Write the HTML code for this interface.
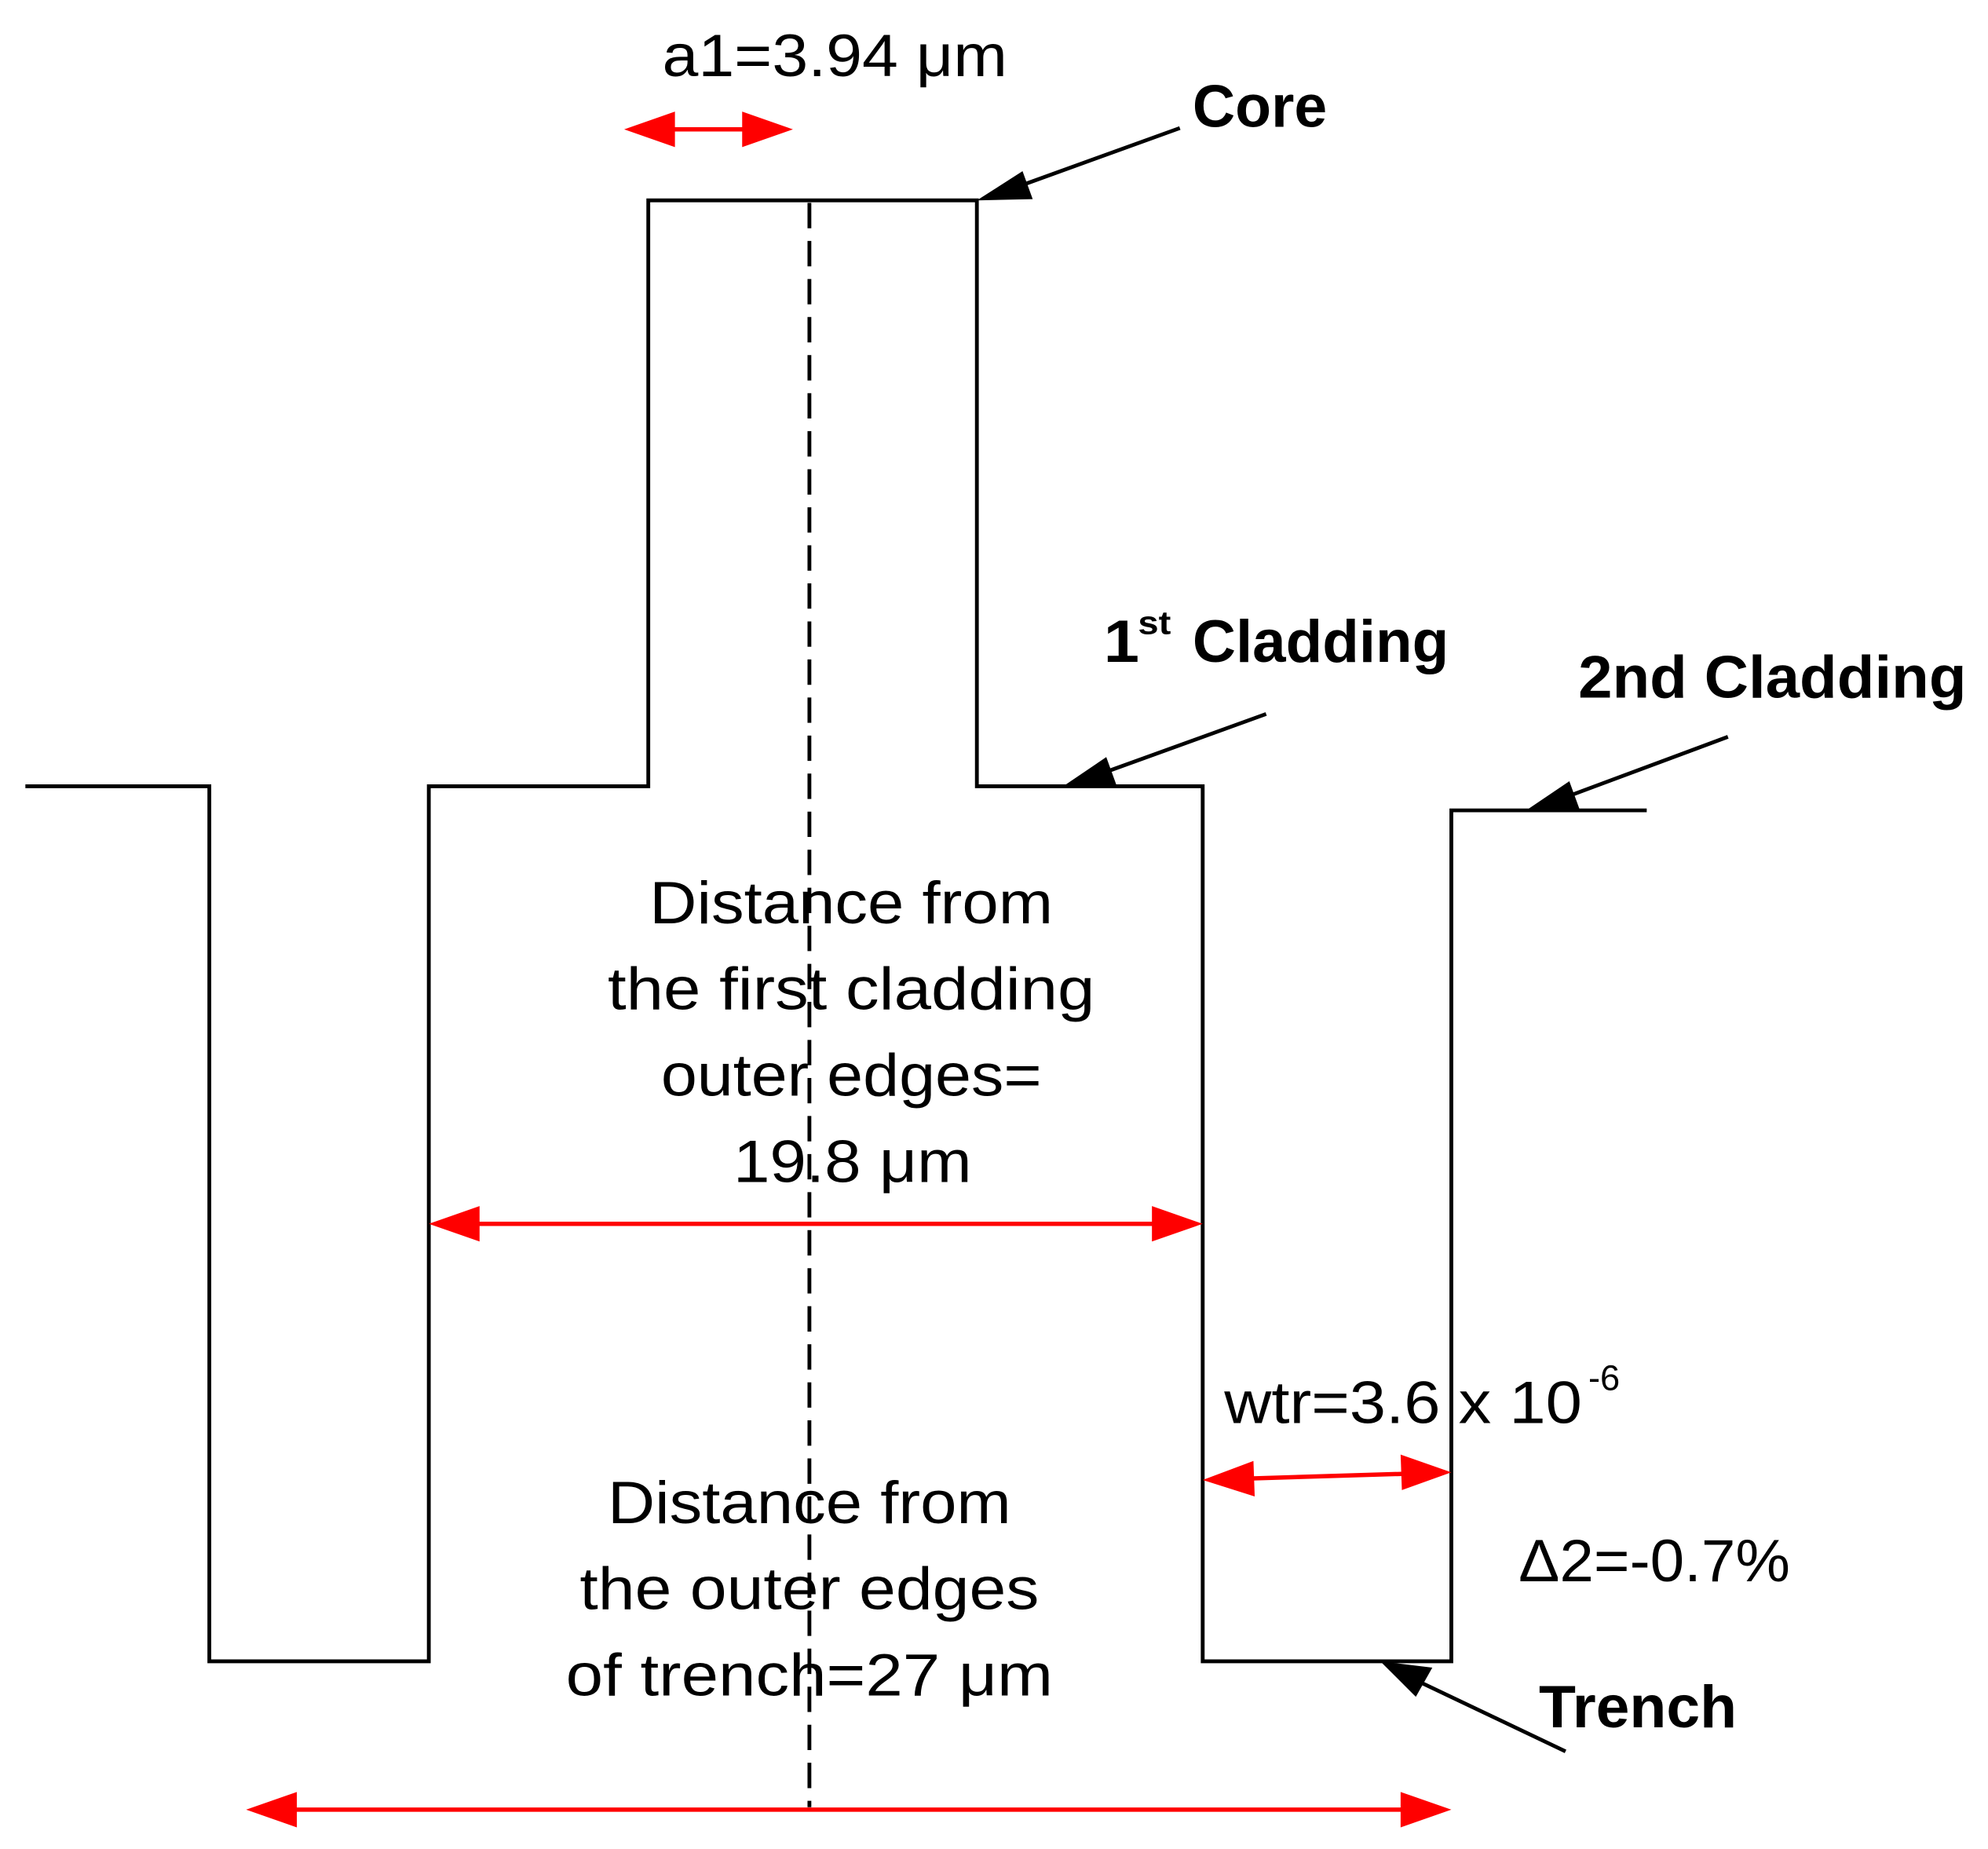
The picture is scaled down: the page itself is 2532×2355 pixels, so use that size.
<!DOCTYPE html>
<html><head><meta charset="utf-8"><style>html,body{margin:0;padding:0;background:#fff}svg{display:block}</style></head>
<body>
<svg width="2532" height="2355" viewBox="0 0 1567 1458" preserveAspectRatio="none" xmlns="http://www.w3.org/2000/svg">
<g fill="none" stroke="#000" stroke-width="3">
<polyline points="20,620 165,620 165,1310 338,1310 338,620 511,620 511,158 770,158 770,620 948,620 948,1310 1144,1310 1144,639 1298,639"/>
<line x1="638" y1="160" x2="638" y2="1425" stroke-dasharray="20,10"/>
<line x1="930" y1="101" x2="800" y2="148"/>
<line x1="998" y1="563" x2="868" y2="610"/>
<line x1="1362" y1="581" x2="1233" y2="629"/>
<line x1="1234" y1="1381" x2="1110" y2="1322"/>
</g>
<g fill="#000">
<polygon points="770,158 806,135 814,157"/>
<polygon points="838,620 872,597 880,619"/>
<polygon points="1203,639 1237,616 1245,638"/>
<polygon points="1088,1310 1129,1315 1116,1338"/>
</g>
<g stroke="#f00" stroke-width="3.4">
<line x1="520" y1="102" x2="598" y2="102"/>
<line x1="370" y1="965" x2="918" y2="965"/>
<line x1="980" y1="1166" x2="1112" y2="1162"/>
<line x1="226" y1="1427" x2="1112" y2="1427"/>
</g>
<g fill="#f00">
<polygon points="492,102 532,88 532,116"/><polygon points="625,102 585,88 585,116"/>
<polygon points="338,965 378,951 378,979"/><polygon points="948,965 908,951 908,979"/>
<polygon points="948,1167 988,1152 989,1180"/><polygon points="1144,1161 1104,1147 1105,1175"/>
<polygon points="194,1427 234,1413 234,1441"/><polygon points="1144,1427 1104,1413 1104,1441"/>
</g>
<g font-family="Liberation Sans, sans-serif" font-size="47" fill="#000">
<text x="522" y="60" textLength="272" lengthAdjust="spacingAndGlyphs">a1=3.94 μm</text>
<text x="512" y="728" textLength="318" lengthAdjust="spacingAndGlyphs">Distance from</text>
<text x="479" y="796" textLength="384" lengthAdjust="spacingAndGlyphs">the first cladding</text>
<text x="521" y="864" textLength="300" lengthAdjust="spacingAndGlyphs">outer edges=</text>
<text x="578" y="932" textLength="188" lengthAdjust="spacingAndGlyphs">19.8 μm</text>
<text x="479" y="1201" textLength="318" lengthAdjust="spacingAndGlyphs">Distance from</text>
<text x="457" y="1269" textLength="362" lengthAdjust="spacingAndGlyphs">the outer edges</text>
<text x="446" y="1337" textLength="384" lengthAdjust="spacingAndGlyphs">of trench=27 μm</text>
<text x="965" y="1122" textLength="282" lengthAdjust="spacingAndGlyphs">wtr=3.6 x 10</text>
<text x="1252" y="1096" font-size="28">-6</text>
<text x="1197" y="1247" textLength="214" lengthAdjust="spacingAndGlyphs">Δ2=-0.7%</text>
</g>
<g font-family="Liberation Sans, sans-serif" font-size="47" font-weight="bold" fill="#000">
<text x="940" y="100" textLength="106" lengthAdjust="spacingAndGlyphs">Core</text>
<text x="870" y="522" textLength="28" lengthAdjust="spacingAndGlyphs">1</text>
<text x="897" y="500" font-size="26" textLength="26" lengthAdjust="spacingAndGlyphs">st</text>
<text x="940" y="522" textLength="202" lengthAdjust="spacingAndGlyphs">Cladding</text>
<text x="1244" y="550" textLength="306" lengthAdjust="spacingAndGlyphs">2nd Cladding</text>
<text x="1213" y="1362" textLength="156" lengthAdjust="spacingAndGlyphs">Trench</text>
</g>
</svg>
</body></html>
